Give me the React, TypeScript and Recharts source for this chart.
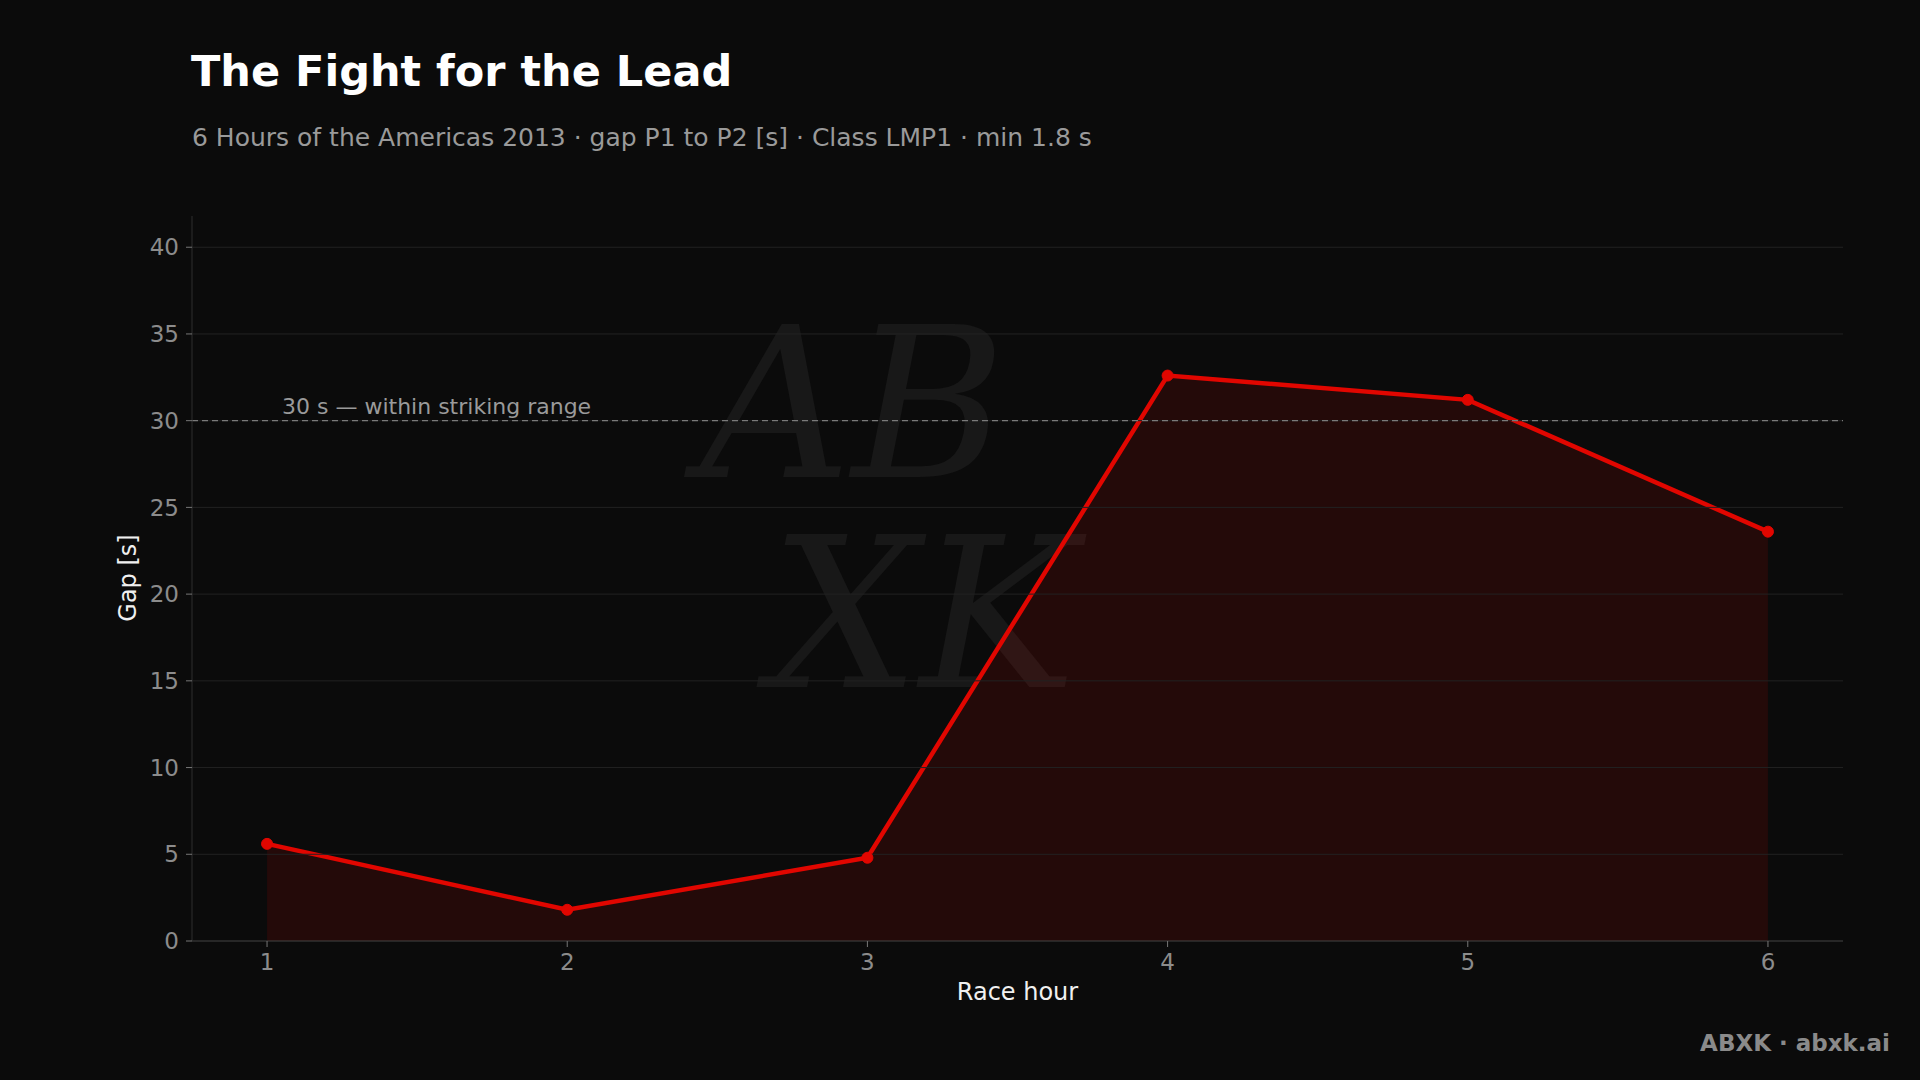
import {
  ComposedChart,
  Area,
  XAxis,
  YAxis,
  ReferenceLine,
} from "recharts";

const raceHours = [1, 2, 3, 4, 5, 6];
const gapSeconds = [5.6, 1.8, 4.8, 32.6, 31.2, 23.6];
const yTicks = [0, 5, 10, 15, 20, 25, 30, 35, 40];
const strikingRange = 30;

const data = raceHours.map((hour, i) => ({ hour, gap: gapSeconds[i] }));

const FONT = "'DejaVu Sans', Verdana, sans-serif";
const RED = "#e10600";
const BG = "#0b0b0b";

function StrikeLabel(props: any) {
  const vb = props.viewBox || {};
  return (
    <text
      x={(vb.x ?? 0) + 90}
      y={(vb.y ?? 0) - 7}
      fill="#9a9a9a"
      fontSize={22}
      fontFamily={FONT}
    >
      30 s — within striking range
    </text>
  );
}

export default function App() {
  return (
    <div
      style={{
        position: "absolute",
        left: 0,
        top: 0,
        width: 1920,
        height: 1080,
        background: BG,
        fontFamily: FONT,
        overflow: "hidden",
      }}
    >
      {/* faint signature watermark behind the plot */}
      <div
        style={{
          position: "absolute",
          left: 680,
          top: 300,
          width: 600,
          height: 460,
          fontFamily: "'DejaVu Serif', serif",
          fontStyle: "italic",
          color: "#181818",
          fontSize: 210,
          lineHeight: "210px",
          pointerEvents: "none",
        }}
      >
        <div style={{ marginLeft: 20 }}>AB</div>
        <div style={{ marginLeft: 90 }}>XK</div>
      </div>

      <div
        style={{
          position: "absolute",
          left: 191,
          top: 46,
          color: "#ffffff",
          fontSize: 43,
          fontWeight: "bold",
          whiteSpace: "nowrap",
        }}
      >
        The Fight for the Lead
      </div>
      <div
        style={{
          position: "absolute",
          left: 192,
          top: 123,
          color: "#9a9a9a",
          fontSize: 25,
          whiteSpace: "nowrap",
        }}
      >
        6 Hours of the Americas 2013 · gap P1 to P2 [s] · Class LMP1 · min 1.8 s
      </div>

      {/* axis titles */}
      <div
        style={{
          position: "absolute",
          left: 192,
          width: 1651,
          top: 978,
          textAlign: "center",
          color: "#f0f0f0",
          fontSize: 24,
          whiteSpace: "nowrap",
        }}
      >
        Race hour
      </div>
      <div
        style={{
          position: "absolute",
          left: 128 - 150,
          top: 578 - 15,
          width: 300,
          height: 30,
          lineHeight: "30px",
          textAlign: "center",
          color: "#f0f0f0",
          fontSize: 24,
          whiteSpace: "nowrap",
          transform: "rotate(-90deg)",
        }}
      >
        Gap [s]
      </div>

      <div style={{ position: "absolute", left: 0, top: 0 }}>
        <ComposedChart
          width={1920}
          height={1080}
          data={data}
          margin={{ top: 216, right: 77, bottom: 0, left: 0 }}
        >
          {/* horizontal grid, one line per y tick */}
          {yTicks
            .filter((t) => t > 0)
            .map((t) => (
              <ReferenceLine key={t} y={t} stroke="#222222" strokeWidth={1} />
            ))}
          <XAxis
            dataKey="hour"
            type="number"
            domain={[0.75, 6.25]}
            ticks={raceHours}
            height={139}
            tick={{ fill: "#8c8c8c", fontSize: 23, fontFamily: FONT }}
            tickSize={6}
            tickMargin={7}
            axisLine={{ stroke: "#444444" }}
            tickLine={{ stroke: "#777777" }}
          />
          <YAxis
            type="number"
            domain={[0, 41.8]}
            ticks={yTicks}
            width={192}
            tick={{ fill: "#8c8c8c", fontSize: 23, fontFamily: FONT }}
            tickSize={6}
            tickMargin={7}
            axisLine={{ stroke: "#2e2e2e" }}
            tickLine={{ stroke: "#777777" }}
          />
          <ReferenceLine
            y={strikingRange}
            stroke="#7a7a7a"
            strokeWidth={1.3}
            strokeDasharray="6 4"
            label={<StrikeLabel />}
          />
          <Area
            type="linear"
            dataKey="gap"
            stroke={RED}
            strokeWidth={4.5}
            fill={RED}
            fillOpacity={0.12}
            dot={{ r: 5.5, fill: RED, fillOpacity: 1, stroke: RED, strokeWidth: 1 }}
            activeDot={false}
            isAnimationActive={false}
          />
        </ComposedChart>
      </div>

      <div
        style={{
          position: "absolute",
          right: 30,
          top: 1030,
          color: "#8a8a8a",
          fontSize: 23,
          fontWeight: "bold",
          whiteSpace: "nowrap",
        }}
      >
        ABXK · abxk.ai
      </div>
    </div>
  );
}
